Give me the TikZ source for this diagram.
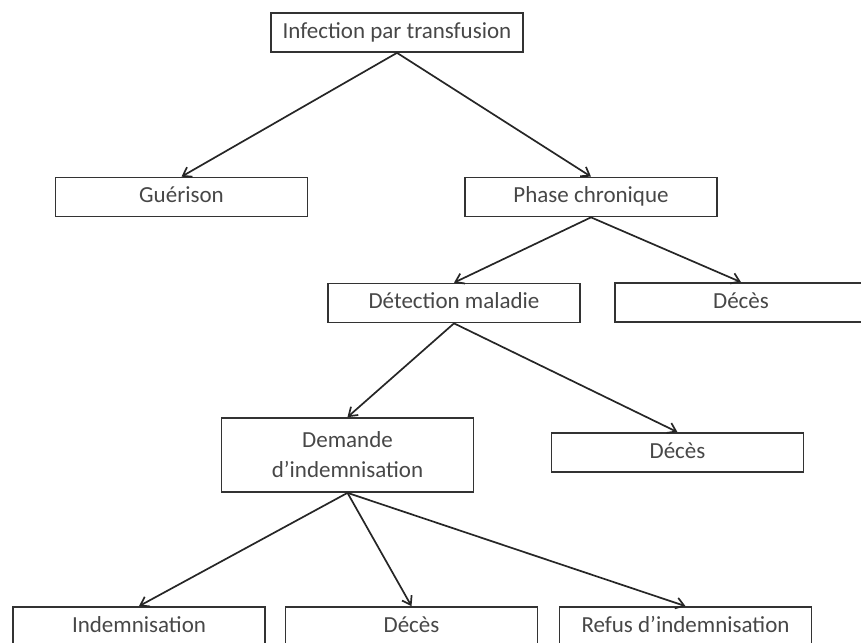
\documentclass[tikz,border=0pt]{standalone}
\usepackage{fontspec}
\setmainfont{Carlito}
\usetikzlibrary{
	arrows.meta
}
\tikzset{
	etat/.style={
		draw=black!80,
		line width=1.7pt,
		minimum width=252pt,
		minimum height=39pt,
		inner sep=0pt,
		text height=16pt,
		text depth=5pt,
		text=black!72,
		font=\fontsize{23}{30}\selectfont,
		align=center
	},
	fleche/.style={
		-{Straight Barb[length=8pt,width=11pt]},
		line width=1.7pt,
		draw=black!85
	}
}

\begin{document}
\begin{tikzpicture}[x=1pt,y=-1pt]
		\useasboundingbox (0,0) rectangle (861,642);
		% arbre des etats
		\node[etat] (infection) at (397,32.5) {Infection par transfusion};
		\node[etat] (guerison) at (181.5,197) {Guérison};
		\node[etat] (chronique) at (591,197) {Phase chronique};
		\node[etat] (detection) at (454,303) {Détection maladie};
		\node[etat] (decesA) at (741,302.5) {Décès};
		\node[etat, minimum height=74pt, text height=, text depth=] (demande) at (347.5,455) {Demande\\d’indemnisation};
		\node[etat] (decesB) at (677.5,452.5) {Décès};
		\node[etat] (indemn) at (139,626.5) {Indemnisation};
		\node[etat] (decesC) at (411.5,626.5) {Décès};
		\node[etat] (refus) at (685.5,626.5) {Refus d’indemnisation};
		% transitions
		\draw[fleche] (infection.south) -- (guerison.north);
		\draw[fleche] (infection.south) -- (chronique.north);
		\draw[fleche] (chronique.south) -- (detection.north);
		\draw[fleche] (chronique.south) -- (decesA.north);
		\draw[fleche] (detection.south) -- (demande.north);
		\draw[fleche] (detection.south) -- (decesB.north);
		\draw[fleche] (demande.south) -- (indemn.north);
		\draw[fleche] (demande.south) -- (decesC.north);
		\draw[fleche] (demande.south) -- (refus.north);
	\end{tikzpicture}
\end{document}
